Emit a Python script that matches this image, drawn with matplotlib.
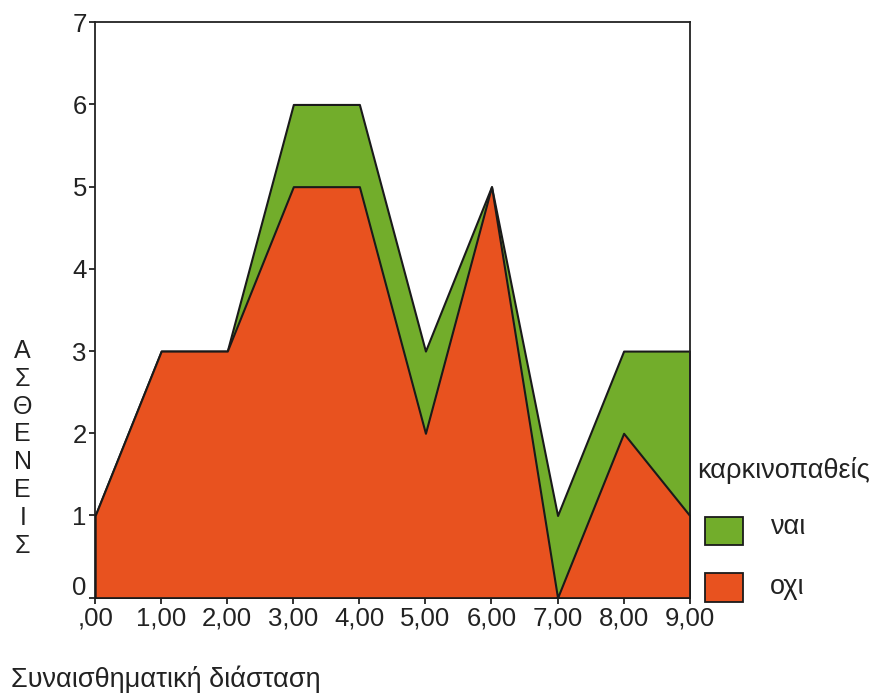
"""Stacked area: ΑΣΘΕΝΕΙΣ vs Συναισθηματική διάσταση, split by καρκινοπαθείς."""
import matplotlib
matplotlib.use("Agg")
import matplotlib.pyplot as plt
import matplotlib.transforms as mtransforms
from matplotlib.patches import Rectangle

matplotlib.rcParams.update({
    "font.family": ["Liberation Sans", "DejaVu Sans"], "font.size": 18,
    "axes.linewidth": 1.3, "xtick.major.width": 1.3, "ytick.major.width": 1.3,
    "xtick.direction": "out", "ytick.direction": "out",
    "xtick.major.size": 4, "ytick.major.size": 4,
    "text.color": "#222222", "xtick.color": "#222222", "ytick.color": "#222222",
})

# Data
x = [0, 1, 2, 3, 4, 5, 6, 7, 8, 9]
oxi = [1, 3, 3, 5, 5, 2, 5, 0, 2, 1]   # οχι
nai = [0, 0, 0, 1, 1, 1, 0, 1, 1, 2]   # ναι
xtick_labels = [",00", "1,00", "2,00", "3,00", "4,00",
                "5,00", "6,00", "7,00", "8,00", "9,00"]
yticks = [0, 1, 2, 3, 4, 5, 6, 7]

ORANGE = "#e8521f"
GREEN = "#72ad2b"

total = [a + b for a, b in zip(oxi, nai)]

fig = plt.figure(figsize=(8.73, 6.95), dpi=100)
ax = fig.add_axes([0.109, 0.140, 0.681, 0.828])

ax.fill_between(x, total, 0, facecolor=GREEN, edgecolor="#1a1a1a", linewidth=1.5, zorder=2)
ax.fill_between(x, oxi, 0, facecolor=ORANGE, edgecolor="#1a1a1a", linewidth=1.5, zorder=3)

ax.set_xlim(0, 9)
ax.set_ylim(0, 7)
ax.set_xticks(x)
ax.set_xticklabels(xtick_labels, fontsize=18.5)
ax.set_yticks(yticks)
ax.set_yticklabels([str(v) for v in yticks], fontsize=18.5)
ax.tick_params(axis="x", pad=2)
ax.tick_params(axis="y", pad=2)
for s in ax.spines.values():
    s.set_color("#222222")

# the "0" label sits a little above its tick, clear of ",00"
lab0 = ax.get_yticklabels()[0]
lab0.set_transform(lab0.get_transform()
                   + mtransforms.ScaledTranslation(0, 9 / 72, fig.dpi_scale_trans))

# vertical stacked y label
fig.text(0.026, 0.355, "\n".join("ΑΣΘΕΝΕΙΣ"), ha="center", va="center",
         fontsize=18, linespacing=1.2)
fig.text(0.013, 0.022, "Συναισθηματική διάσταση", ha="left", va="center", fontsize=19.5)

# legend
fig.text(0.798, 0.323, "καρκινοπαθείς", ha="left", va="center", fontsize=19.5)
fig.add_artist(Rectangle((0.808, 0.216), 0.043, 0.040, transform=fig.transFigure,
                         facecolor=GREEN, edgecolor="#1a1a1a", linewidth=1.3))
fig.text(0.882, 0.242, "ναι", ha="left", va="center", fontsize=19.5)
fig.add_artist(Rectangle((0.808, 0.134), 0.043, 0.042, transform=fig.transFigure,
                         facecolor=ORANGE, edgecolor="#1a1a1a", linewidth=1.3))
fig.text(0.882, 0.155, "οχι", ha="left", va="center", fontsize=19.5)

fig.savefig("out.png", dpi=100)
